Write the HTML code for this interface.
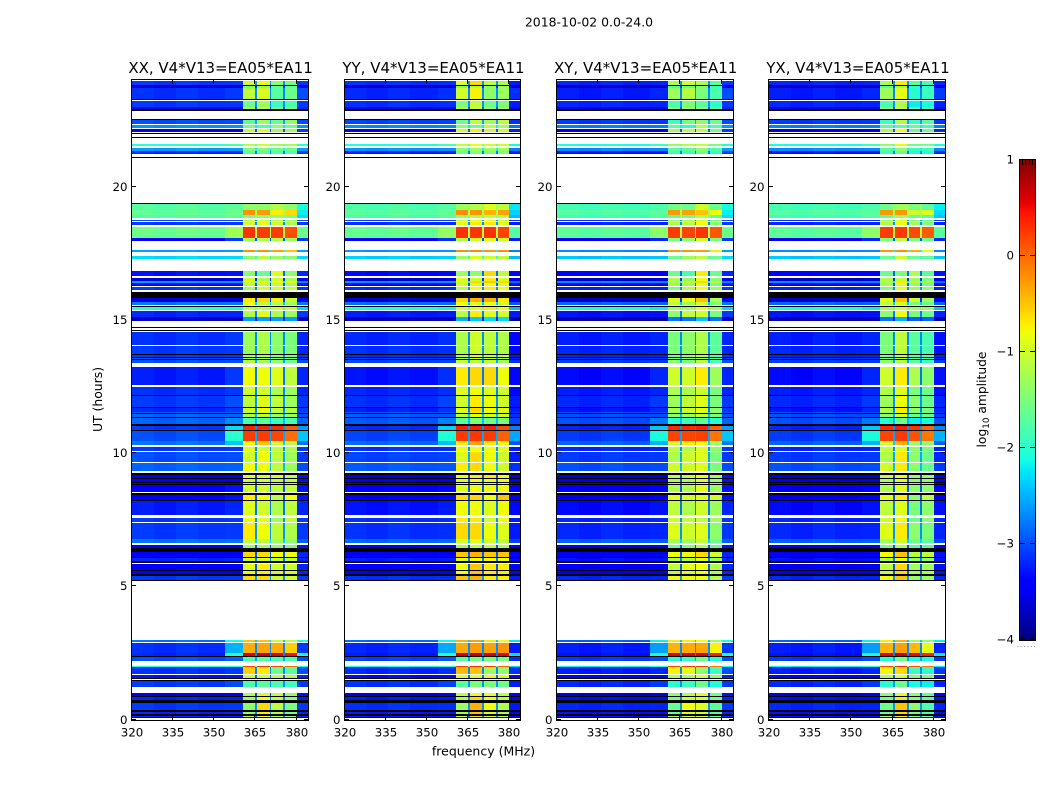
<!DOCTYPE html>
<html lang="en">
<head>
<meta charset="utf-8">
<title>2018-10-02 0.0-24.0</title>
<style>
html,body{margin:0;padding:0;background:#fff;width:1050px;height:800px;overflow:hidden}
svg{display:block;font-family:"DejaVu Sans","Liberation Sans",sans-serif;fill:#000}
</style>
</head>
<body>
<svg id="figure" xmlns="http://www.w3.org/2000/svg" width="1050" height="800" viewBox="0 0 1050 800">
  <rect x="0" y="0" width="1050" height="800" fill="#fff"/>
  <text x="589" y="26.5" font-size="12.45" text-anchor="middle">2018-10-02 0.0-24.0</text>
  <text x="0" y="0" font-size="12.4" text-anchor="middle" transform="translate(102,399.5) rotate(-90)">UT (hours)</text>
  <text x="483.5" y="755.5" font-size="12.5" text-anchor="middle">frequency (MHz)</text>
  <text x="0" y="0" font-size="12.3" text-anchor="middle" transform="translate(986,399.5) rotate(-90)">log<tspan font-size="8.8" dy="3">10</tspan><tspan dy="-3"> amplitude</tspan></text>
  <g id="panels"></g>
  <g id="colorbar"></g>
</svg>
<script>
// ---- chart data (hours, MHz, log10 amplitude) ----
const panelTitles = ["XX, V4*V13=EA05*EA11", "YY, V4*V13=EA05*EA11", "XY, V4*V13=EA05*EA11", "YX, V4*V13=EA05*EA11"];
const panelIds = ["xx", "yy", "xy", "yx"];
const utTicks = [0, 5, 10, 15, 20];
const freqTicks = [320, 335, 350, 365, 380];
const colorbarTicks = [1, 0, -1, -2, -3, -4];
const freqRange = [320, 384];
const utRange = [0, 24];
const colorRange = [-4, 1];

// frequency channels: low side, wing, four bright bands with notches, high side
const lowChannels = [[320, 328], [328, 336], [336, 344], [344, 354]];
const lowChannelShift = [-0.08, -0.13, -0.07, -0.12];
const wingChannel = [354, 360.5];
const bandChannels = [[360.5, 365], [365.7, 370.2], [370.8, 375.1], [375.7, 380]];
const notchChannels = [[365, 365.7], [370.2, 370.8], [375.1, 375.7]];
const rightChannel = [380, 384];

// observed time rows (start,end hour); white gaps have no row
const rowHours = [
[23.81,23.98],[23.70,23.78],[23.26,23.70],[23.00,23.23],[22.91,23.00],
[22.36,22.49],[22.21,22.31],[22.06,22.16],
[21.52,21.61],[21.35,21.46],[21.22,21.33],
[19.12,19.34],[18.93,19.12],[18.81,18.93],[18.72,18.76],[18.56,18.67],[18.06,18.49],[17.97,18.06],
[17.53,17.62],[17.28,17.40],
[16.64,16.83],[16.45,16.56],[16.37,16.45],[16.27,16.37],[16.12,16.22],
[15.68,15.80],[15.55,15.68],[15.37,15.47],[15.09,15.34],[14.96,15.09],
[14.05,14.55],[13.72,14.02],[13.60,13.68],[13.54,13.58],[13.37,13.52],
[12.56,13.24],[12.18,12.49],[11.71,12.14],[11.55,11.69],[11.49,11.55],[11.34,11.47],[11.08,11.32],
[10.86,11.02],[10.46,10.84],[10.30,10.46],[10.08,10.24],[9.67,10.04],[9.34,9.61],
[9.05,9.17],[8.90,9.02],[8.80,8.87],[8.55,8.80],[8.25,8.42],[7.67,8.22],[7.42,7.57],[6.76,7.36],[6.61,6.76],
[6.45,6.55],[6.11,6.30],[5.95,6.05],[5.62,5.82],[5.45,5.58],[5.22,5.40],
[2.90,2.98],[2.48,2.86],[2.39,2.48],[2.20,2.35],[1.96,2.01],[1.71,1.96],[1.55,1.66],[1.21,1.46],
[0.88,0.98],[0.73,0.83],[0.36,0.63],[0.21,0.30],[0.08,0.15]
];
// per-row levels: low, wing, right, band1, band2, band3, band4
const rowLevels = [
[-3.0,-3.0,-3.0,-0.9,-0.7,-1.3,-1.4],[-3.5,-3.5,-3.3,-1.5,-1.4,-1.6,-1.6],[-3.05,-3.0,-2.9,-1.0,-0.85,-1.6,-1.5],[-3.0,-3.0,-3.0,-1.5,-1.2,-1.8,-1.7],[-3.3,-3.3,-3.1,-1.0,-1.0,-1.4,-1.4],
[-2.9,-2.9,-2.9,-1.6,-1.2,-1.5,-1.3],[-2.55,-2.55,-2.55,-1.4,-1.7,-1.3,-1.5],[-3.3,-3.3,-3.0,-1.0,-0.8,-1.2,-1.2],
[-1.9,-1.7,-1.9,-1.1,-0.9,-1.2,-1.2],[-2.5,-2.5,-2.5,-1.4,-1.4,-1.5,-1.5],[-3.1,-3.1,-3.0,-1.6,-1.6,-1.7,-1.7],
[-1.65,-1.6,-2.0,-1.3,-1.3,-1.1,-1.3],[-1.55,-1.5,-2.1,-0.2,-0.25,-0.6,-0.5],[-1.7,-1.6,-2.2,-1.4,-1.3,-1.3,-1.4],[-2.9,-2.9,-2.9,-1.0,-0.9,-1.0,-1.2],[-3.0,-3.0,-3.0,-0.9,-0.8,-0.9,-1.1],[-1.5,-1.2,-1.5,0.3,0.25,0.25,0.15],[-3.3,-3.0,-3.0,-1.2,-1.1,-1.1,-1.2],
[-2.5,-2.5,-2.5,-0.2,-0.2,-0.3,-0.4],[-2.2,-2.2,-2.2,-1.3,-1.0,-1.2,-1.3],
[-3.2,-3.2,-3.1,-1.3,-1.5,-0.8,-1.3],[-3.5,-3.4,-3.3,-0.9,-1.1,-0.9,-1.1],[-2.5,-2.5,-2.6,-0.9,-0.7,-0.7,-0.8],[-3.3,-3.3,-3.2,-1.0,-1.0,-1.0,-1.2],[-3.0,-3.0,-3.0,-1.2,-0.9,-0.9,-1.0],
[-3.5,-3.5,-3.3,-0.6,-0.5,-0.6,-0.9],[-2.7,-2.7,-2.7,-0.8,-1.0,-1.1,-1.2],[-1.9,-2.0,-2.2,-1.0,-1.0,-0.9,-1.0],[-3.1,-3.1,-3.0,-1.1,-0.8,-1.1,-1.2],[-3.6,-3.6,-3.6,-2.5,-2.5,-2.5,-2.5],
[-3.05,-3.0,-3.1,-1.2,-1.1,-1.3,-1.4],[-3.0,-3.0,-3.1,-1.2,-1.1,-1.3,-1.4],[-3.0,-3.0,-3.0,-1.2,-1.1,-1.3,-1.4],[-2.9,-2.9,-3.0,-1.2,-1.1,-1.3,-1.4],[-2.9,-2.9,-2.9,-1.1,-1.2,-1.3,-1.5],
[-3.15,-3.0,-3.1,-0.7,-0.7,-0.8,-1.0],[-3.05,-3.0,-3.1,-0.9,-0.9,-1.1,-1.2],[-3.0,-2.9,-3.0,-1.0,-0.8,-1.0,-1.2],[-3.1,-3.0,-3.0,-0.9,-0.7,-1.0,-1.1],[-2.8,-2.8,-2.9,-1.0,-0.8,-1.0,-1.1],[-2.8,-2.8,-2.9,-1.1,-1.0,-1.2,-1.2],[-2.8,-2.6,-2.8,-1.7,-1.6,-1.8,-1.7],
[-3.0,-2.2,-2.5,0.4,0.4,0.35,0.1],[-2.9,-1.9,-2.3,0.25,0.25,0.2,0.0],[-2.7,-2.3,-2.7,-0.7,-0.4,-0.9,-1.0],[-3.0,-3.0,-3.0,-0.8,-0.9,-1.0,-1.1],[-2.9,-2.9,-3.0,-0.9,-0.7,-1.0,-1.2],[-2.8,-2.8,-2.9,-0.7,-0.7,-1.0,-1.2],
[-3.4,-3.4,-3.2,-0.8,-0.8,-0.9,-1.0],[-3.3,-3.3,-3.2,-0.9,-0.9,-1.0,-1.0],[-3.3,-3.3,-3.2,-0.9,-0.9,-1.0,-1.0],[-3.3,-3.2,-3.2,-0.9,-0.9,-1.0,-1.0],[-3.3,-3.2,-3.2,-0.6,-0.7,-1.0,-0.7],[-3.15,-3.1,-3.1,-0.8,-0.9,-1.1,-1.0],[-3.0,-3.0,-3.0,-0.7,-0.8,-1.2,-1.0],[-3.0,-3.0,-3.0,-0.6,-0.7,-1.0,-1.1],[-2.7,-2.7,-2.8,-1.0,-1.0,-1.2,-1.3],
[-3.3,-3.3,-3.2,-1.3,-1.2,-1.3,-1.4],[-3.3,-3.3,-3.1,-0.5,-0.5,-0.7,-0.7],[-3.1,-3.1,-3.1,-0.9,-0.9,-1.0,-1.0],[-3.3,-3.3,-3.1,-0.8,-0.6,-0.9,-0.9],[-3.3,-3.3,-3.1,-0.8,-0.6,-0.9,-0.9],[-3.0,-3.0,-3.0,-0.5,-0.5,-0.9,-0.9],
[-2.7,-2.0,-2.0,-0.4,-0.4,-0.9,-1.0],[-3.05,-2.4,-3.0,-0.35,-0.3,-0.35,-0.45],[-3.1,-1.9,-2.0,0.65,0.7,0.6,0.5],[-2.9,-2.8,-2.9,-1.7,-1.6,-1.7,-1.7],[-2.0,-1.9,-2.0,0.2,0.3,0.2,0.0],[-3.05,-3.0,-2.9,-0.45,-0.6,-1.5,-1.6],[-3.2,-3.2,-3.1,-0.9,-0.9,-1.0,-1.1],[-3.0,-2.9,-3.0,-1.7,-1.6,-1.7,-1.8],
[-3.4,-3.3,-3.2,-1.1,-0.9,-1.0,-1.3],[-3.1,-3.1,-3.1,-1.2,-0.7,-1.0,-1.3],[-3.0,-3.0,-3.0,-1.3,-0.5,-1.0,-1.4],[-3.1,-3.1,-3.1,-1.3,-0.6,-1.1,-1.4],[-3.1,-3.1,-3.1,-1.0,-0.7,-1.1,-1.3]
];
// fully flagged (black) time ranges
const flagHours = [
[23.78,23.81],[23.26,23.29],[22.83,22.91],[22.49,22.52],[21.97,22.00],[21.83,21.86],[21.08,21.12],[19.35,19.40],
[15.80,16.05],[15.47,15.52],[14.70,14.72],[14.60,14.62],[13.68,13.72],[13.58,13.60],[13.52,13.54],
[12.14,12.18],[11.69,11.71],[11.47,11.49],[11.32,11.34],[11.02,11.08],[10.84,10.86],
[9.17,9.24],[9.02,9.05],[8.87,8.90],[8.80,8.83],[8.42,8.49],[8.22,8.25],[6.30,6.45],[6.05,6.11],[5.86,5.95],[5.58,5.62],[5.40,5.45],[5.19,5.22],
[2.35,2.39],[1.52,1.55],[1.46,1.48],[0.83,0.88],[0.63,0.73],[0.30,0.36],[0.15,0.21],[0.06,0.08]
];

// per-panel shifts of the XX levels
const panelLowShift = [0, -0.05, -0.1, -0.1];
const panelRightShift = [-0.1, -0.25, -0.1, -0.2];
const panelBandShift = [[-0.1, -0.1, -0.1, -0.1], [0, 0.1, 0.2, 0.2], [-0.3, -0.3, 0.1, -0.3], [-0.3, 0, -0.4, -0.4]];

// ---- layout ----
const axesLeft = [131.6, 344.5, 556.7, 769];
const axesWidth = 175.9;
const axesTop = 80;
const axesBottom = 719.5;
const NS = "http://www.w3.org/2000/svg";

function xScale(panel, mhz) {
  return axesLeft[panel] + (mhz - freqRange[0]) / (freqRange[1] - freqRange[0]) * axesWidth;
}
function yScale(hour) {
  return axesBottom - (hour - utRange[0]) / (utRange[1] - utRange[0]) * (axesBottom - axesTop);
}
function interp(t, pts) {
  for (let i = 1; i < pts.length; i++) {
    if (t <= pts[i][0]) {
      const a = pts[i - 1], b = pts[i];
      return a[1] + (b[1] - a[1]) * (t - a[0]) / (b[0] - a[0]);
    }
  }
  return pts[pts.length - 1][1];
}
function jet(v) {
  const t = Math.max(0, Math.min(1, (v - colorRange[0]) / (colorRange[1] - colorRange[0])));
  const r = interp(t, [[0, 0], [0.35, 0], [0.66, 1], [0.89, 1], [1, 0.5]]);
  const g = interp(t, [[0, 0], [0.125, 0], [0.375, 1], [0.64, 1], [0.91, 0], [1, 0]]);
  const b = interp(t, [[0, 0.5], [0.11, 1], [0.34, 1], [0.65, 0], [1, 0]]);
  return "rgb(" + Math.round(r * 255) + "," + Math.round(g * 255) + "," + Math.round(b * 255) + ")";
}
function make(tag, parent, attrs) {
  const el = document.createElementNS(NS, tag);
  for (const k in attrs) el.setAttribute(k, attrs[k]);
  parent.appendChild(el);
  return el;
}
function cell(parent, panel, f0, f1, h0, h1, value) {
  const x0 = Math.round(xScale(panel, f0));
  const x1 = Math.round(xScale(panel, f1));
  const y0 = Math.round(yScale(h1));
  const y1 = Math.round(yScale(h0));
  const el = make("rect", parent, {x: x0, y: y0, width: Math.max(1, x1 - x0), height: Math.max(1, y1 - y0), fill: value === null ? "#000" : jet(value)});
  
  
  return el;
}
// the strongest (saturated) rows are nearly equal across polarizations
function bandValue(level, shift) {
  return level + (level > -0.4 ? shift * 0.2 : shift);
}

const panelsGroup = document.getElementById("panels");
panelTitles.forEach(function (title, p) {
  const g = make("g", panelsGroup, {});
  
  

  const titleEl = make("text", g, {x: axesLeft[p] + axesWidth / 2 + 1, y: 73, "font-size": 15, "text-anchor": "middle"});
  
  
  titleEl.textContent = title;

  const heat = make("g", g, {"shape-rendering": "crispEdges"});
  
  

  rowHours.forEach(function (hours, r) {
    const lv = rowLevels[r];
    const low = lv[0] + panelLowShift[p];
    lowChannels.forEach(function (ch, c) {
      cell(heat, p, ch[0], ch[1], hours[0], hours[1], low + lowChannelShift[c]);
    });
    cell(heat, p, wingChannel[0], wingChannel[1], hours[0], hours[1], lv[1] + panelLowShift[p] - 0.1);
    bandChannels.forEach(function (ch, c) {
      cell(heat, p, ch[0], ch[1], hours[0], hours[1], bandValue(lv[3 + c], panelBandShift[p][c]));
    });
    notchChannels.forEach(function (ch) {
      cell(heat, p, ch[0], ch[1], hours[0], hours[1], lv[0] + 0.35);
    });
    cell(heat, p, rightChannel[0], rightChannel[1], hours[0], hours[1], lv[2] + panelRightShift[p]);
  });
  flagHours.forEach(function (hours) {
    cell(heat, p, freqRange[0], freqRange[1], hours[0], hours[1], null);
  });

  const left = Math.round(xScale(p, freqRange[0]));
  const right = Math.round(xScale(p, freqRange[1]));
  const top = Math.round(yScale(utRange[1]));
  const bottom = Math.round(yScale(utRange[0]));

  const frame = make("rect", g, {x: left + 0.5 - 1, y: top + 0.5 - 1, width: right - left + 1, height: bottom - top + 1, fill: "none", stroke: "#000", "stroke-width": 1, "shape-rendering": "crispEdges"});
  
  

  utTicks.forEach(function (h) {
    const y = Math.round(yScale(h)) - 0.5;
    const t1 = make("line", g, {x1: left, x2: left + 4, y1: y, y2: y, stroke: "#000", "shape-rendering": "crispEdges"});
    
    
    const t2 = make("line", g, {x1: right - 4, x2: right, y1: y, y2: y, stroke: "#000", "shape-rendering": "crispEdges"});
    
    
    const lbl = make("text", g, {x: left - 4.5, y: y + 4.5, "font-size": 11.8, "text-anchor": "end"});
    
    
    lbl.textContent = h;
  });
  freqTicks.forEach(function (f) {
    const x = Math.round(xScale(p, f)) - 0.5;
    const t1 = make("line", g, {x1: x, x2: x, y1: bottom, y2: bottom - 4, stroke: "#000", "shape-rendering": "crispEdges"});
    
    
    const t2 = make("line", g, {x1: x, x2: x, y1: top, y2: top + 4, stroke: "#000", "shape-rendering": "crispEdges"});
    
    
    const lbl = make("text", g, {x: x + 0.5, y: 736.5, "font-size": 11.8, "text-anchor": "middle"});
    
    
    lbl.textContent = f;
  });
});

// ---- colorbar ----
const cbar = document.getElementById("colorbar");
const cbLeft = 1020, cbRight = 1035, cbTop = 160, cbBottom = 640;
function cbY(v) {
  return cbBottom - (v - colorRange[0]) / (colorRange[1] - colorRange[0]) * (cbBottom - cbTop);
}
for (let py = cbTop; py < cbBottom; py++) {
  const strip = make("rect", cbar, {x: cbLeft, y: py, width: cbRight - cbLeft, height: 1, fill: jet(colorRange[1] - (py + 0.5 - cbTop) / (cbBottom - cbTop) * (colorRange[1] - colorRange[0])), "shape-rendering": "crispEdges"});
  
  
}
const cbFrame = make("rect", cbar, {x: cbLeft - 0.5, y: cbTop - 0.5, width: cbRight - cbLeft + 1, height: cbBottom - cbTop + 1, fill: "none", stroke: "#000", "shape-rendering": "crispEdges"});


colorbarTicks.forEach(function (v) {
  const y = Math.round(cbY(v)) - 0.5;
  const t1 = make("line", cbar, {x1: cbLeft, x2: cbLeft + 5, y1: y, y2: y, stroke: "#000", "shape-rendering": "crispEdges"});
  
  
  const t2 = make("line", cbar, {x1: cbRight - 5, x2: cbRight, y1: y, y2: y, stroke: "#000", "shape-rendering": "crispEdges"});
  
  
  const lbl = make("text", cbar, {x: 1014, y: y + 4, "font-size": 11.8, "text-anchor": "end"});
  
  
  lbl.textContent = v < 0 ? "\u2212" + Math.abs(v) : String(v);
});
[1022.5, 1025.5, 1029.5, 1032.5].forEach(function (x) {
  const t1 = make("line", cbar, {x1: x, x2: x, y1: cbTop, y2: cbTop + 5, stroke: "#000", "shape-rendering": "crispEdges"});
  
  
  const t2 = make("line", cbar, {x1: x, x2: x, y1: cbBottom - 5, y2: cbBottom, stroke: "#000", "shape-rendering": "crispEdges"});
  
  
});
[1017.5, 1020.5, 1024, 1027.5, 1031, 1034].forEach(function (x) {
  const dot = make("rect", cbar, {x: x, y: 646, width: 1, height: 1, fill: "#999"});
  
  
});
</script>
</body>
</html>
